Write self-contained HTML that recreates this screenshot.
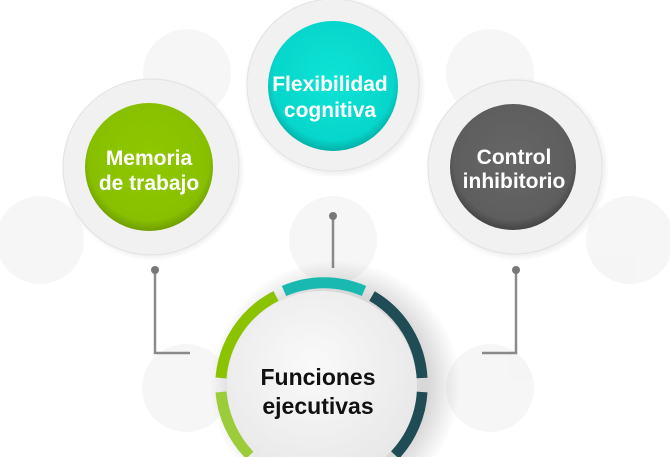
<!DOCTYPE html>
<html><head><meta charset="utf-8"><style>
html,body{margin:0;padding:0;background:#fff;width:670px;height:457px;overflow:hidden;}
svg{display:block;}
text{font-family:"Liberation Sans",sans-serif;font-weight:bold;text-anchor:middle;}
</style></head><body>
<svg width="670" height="457" viewBox="0 0 670 457" xmlns="http://www.w3.org/2000/svg">
<defs>
<radialGradient id="sh" cx="50%" cy="50%" r="50%">
<stop offset="75%" stop-color="#000" stop-opacity="0.22"/>
<stop offset="100%" stop-color="#000" stop-opacity="0"/>
</radialGradient>
<radialGradient id="gg" cx="50%" cy="45%" r="55%"><stop offset="0%" stop-color="#8fc800"/><stop offset="85%" stop-color="#88c000"/><stop offset="100%" stop-color="#6f9e00"/></radialGradient>
<radialGradient id="tg" cx="50%" cy="45%" r="55%"><stop offset="0%" stop-color="#0ee3d6"/><stop offset="85%" stop-color="#06d6cb"/><stop offset="100%" stop-color="#04b0a7"/></radialGradient>
<radialGradient id="kg" cx="50%" cy="45%" r="55%"><stop offset="0%" stop-color="#666"/><stop offset="85%" stop-color="#5e5e5e"/><stop offset="100%" stop-color="#444"/></radialGradient>
<radialGradient id="wg" cx="45%" cy="40%" r="60%"><stop offset="0%" stop-color="#fafafa"/><stop offset="100%" stop-color="#e8e8e8"/></radialGradient>
</defs>
<g fill="#f0f0f0" opacity="0.6">
<circle cx="187" cy="73" r="44"/><circle cx="490" cy="73" r="44"/>
<circle cx="40" cy="240" r="44"/><circle cx="630" cy="240" r="44"/>
<circle cx="333" cy="240" r="44"/>
<circle cx="186" cy="388" r="44"/><circle cx="490" cy="388" r="44"/>
</g>
<g stroke="#8a8a8a" stroke-width="2.5" fill="none">
<polyline points="155,270 155,353 190,353"/>
<line x1="333" y1="216" x2="333" y2="268"/>
<polyline points="516,270 516,353 482,353"/>
</g>
<g fill="#777"><circle cx="155" cy="270" r="4"/><circle cx="333" cy="216" r="4"/><circle cx="516" cy="270" r="4"/></g>
<circle cx="153" cy="169" r="92" fill="url(#sh)"/>
<circle cx="151" cy="167" r="88" fill="#f1f1f1" stroke="#e2e2e2"/>
<circle cx="149" cy="167" r="64" fill="url(#gg)"/>
<text x="149" y="165" font-size="21" fill="#fff">Memoria</text>
<text x="149" y="190" font-size="21" fill="#fff">de trabajo</text>

<circle cx="335" cy="87" r="91" fill="url(#sh)"/>
<circle cx="333" cy="85" r="86" fill="#f1f1f1" stroke="#e2e2e2"/>
<circle cx="333" cy="86" r="65" fill="url(#tg)"/>
<text x="330" y="91" font-size="21" fill="#fff">Flexibilidad</text>
<text x="330" y="117" font-size="21" fill="#fff">cognitiva</text>

<circle cx="517" cy="169" r="92" fill="url(#sh)"/>
<circle cx="515" cy="167" r="87" fill="#f1f1f1" stroke="#e2e2e2"/>
<circle cx="513" cy="167" r="63" fill="url(#kg)"/>
<text x="514" y="164" font-size="21" fill="#fff">Control</text>
<text x="514" y="188" font-size="21" fill="#fff">inhibitorio</text>

<circle cx="335" cy="385" r="125" fill="url(#sh)" opacity="0.7"/>
<g fill="none" stroke-width="11">
<path d="M 221 378 A 101 101 0 0 1 276 296" stroke="#8cc300"/>
<path d="M 221 392 A 101 101 0 0 0 250 455" stroke="#9ccc3a"/>
<path d="M 284 291 A 101 101 0 0 1 364 291" stroke="#19b9b0"/>
<path d="M 372 296 A 101 101 0 0 1 422 378" stroke="#1f4c55"/>
<path d="M 422 392 A 101 101 0 0 1 395 455" stroke="#1f4c55"/>
</g>
<circle cx="322" cy="386" r="95" fill="url(#wg)"/>
<text x="318" y="385" font-size="23" fill="#111">Funciones</text>
<text x="318" y="414" font-size="23" fill="#111">ejecutivas</text>
</svg>
</body></html>
